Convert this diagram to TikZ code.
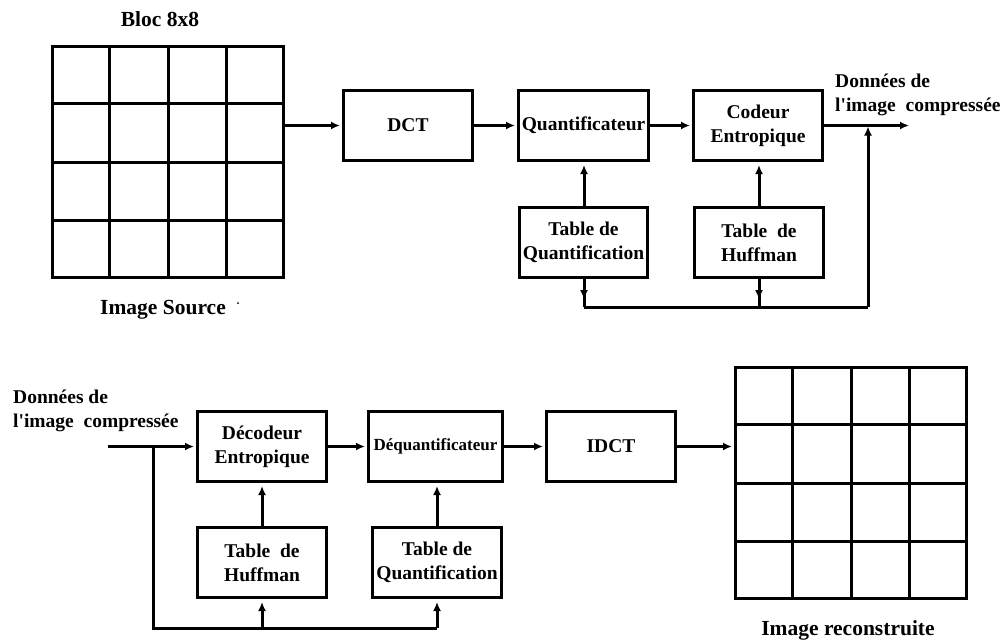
\documentclass[tikz,border=0pt]{standalone}
\usepackage{fontspec}
\setmainfont{Liberation Serif}
\usetikzlibrary{arrows.meta,decorations.markings}
\newcommand\bxf{\fontsize{19.5}{24}\selectfont\bfseries}
\newcommand\dqf{\fontsize{17}{21}\selectfont\bfseries}
\newcommand\lbf{\fontsize{21.5}{25}\selectfont\bfseries}
\newcommand\apos{\textquotesingle}
\begin{document}
\begin{tikzpicture}[x=1pt,y=-1pt,
 ln/.style={line width=3pt},
 tipstyle/.style={-{Latex[length=9pt,width=8pt]}},
 arr/.style={ln,tipstyle,shorten >=2pt},
 midarr/.style={ln,decoration={markings,mark=at position #1 with {\arrow{Latex[length=9pt,width=8pt]}}},postaction=decorate},
 box/.style={draw,line width=3pt,minimum width=129pt,minimum height=70pt,inner sep=0pt,align=center,font=\bxf},
 blk/.style={draw,line width=3pt,minimum width=231pt,minimum height=231pt,inner sep=0pt},
 gl/.style={line width=3pt},
 lbl/.style={inner sep=0pt,font=\lbf,anchor=base},
 txt/.style={inner sep=0pt,font=\bxf,anchor=base west}]
\useasboundingbox (0,0) rectangle (1003,642);
% ---------- top: compression ----------
\node[lbl] (bloc) at (160,27) {Bloc 8x8};
\node[blk] (src) at (168,162) {};
\foreach \i in {1,2,3}{
  \draw[gl] (51+58.5*\i,45) -- (51+58.5*\i,279);
  \draw[gl] (51,45+58.5*\i) -- (285,45+58.5*\i);
}
\node[lbl] (srclbl) at (163,314) {Image Source};
\fill (238,303) circle (1pt);

\node[box] (dct) at (408,125.5) {DCT};
\node[box,minimum width=130pt] (quant) at (583.5,125.5) {Quantificateur};
\node[box] (codeur) at (758,125.5) {Codeur\\Entropique};
\node[box,minimum width=128pt] (tq1) at (583.5,242.5) {Table de\\Quantification};
\node[box] (th1) at (759,242.5) {Table\ \ de\\Huffman};

\node[txt] (out1) at (835,87) {Données de};
\node[txt] (out2) at (835,111) {l\apos image\ \ compressée};

\coordinate (out) at (911,125.5);
\coordinate (j1) at (868,125.5);
\coordinate (b1) at (584,307);
\coordinate (b2) at (868,307);

\draw[arr] (src.east |- dct.west) -- (dct.west);
\draw[arr] (dct.east) -- (quant.west);
\draw[arr] (quant.east) -- (codeur.west);
\draw[arr] (codeur.east) -- (out);
\draw[arr,shorten >=3pt] (tq1.north -| 584,0) -- (quant.south -| 584,0);
\draw[arr,shorten >=3pt] (th1.north) -- (codeur.south -| th1.north);
\draw[midarr=0.72] (tq1.south -| b1) -- (b1);
\draw[midarr=0.72] (th1.south) -- (th1.south |- b1);
\draw[ln] (b1) -- (b2);
\draw[arr,shorten >=1pt] (b2) -- (j1);

% ---------- bottom: decompression ----------
\node[txt] (in1) at (13,403) {Données de};
\node[txt] (in2) at (13,427) {l\apos image\ \ compressée};

\node[box] (dec) at (262,446.5) {Décodeur\\Entropique};
\node[box,minimum width=134pt,font=\dqf] (deq) at (435.5,446.5) {Déquantificateur};
\node[box] (idct) at (611,446.5) {IDCT};
\node[box] (th2) at (262,562.5) {Table\ \ de\\Huffman};
\node[box] (tq2) at (437,562.5) {Table de\\Quantification};

\node[blk] (rec) at (851,483) {};
\foreach \i in {1,2,3}{
  \draw[gl] (734+58.5*\i,366) -- (734+58.5*\i,600);
  \draw[gl] (734,366+58.5*\i) -- (968,366+58.5*\i);
}
\node[lbl] (reclbl) at (848,635) {Image reconstruite};

\coordinate (in) at (108,446.5);
\coordinate (br) at (153,446.5);
\coordinate (bb1) at (153,628);
\coordinate (bb2) at (437,628);

\draw[arr] (in) -- (dec.west);
\draw[arr] (dec.east) -- (deq.west);
\draw[arr] (deq.east) -- (idct.west);
\draw[arr] (idct.east) -- (idct.east -| rec.west);
\draw[arr,shorten >=3pt] (th2.north) -- (dec.south);
\draw[arr,shorten >=3pt] (tq2.north) -- (tq2.north |- deq.south);
\draw[ln] (br) -- (bb1) -- (bb2);
\draw[arr,shorten >=3pt] (th2.south |- bb1) -- (th2.south);
\draw[arr,shorten >=3pt] (bb2) -- (tq2.south);
\end{tikzpicture}
\end{document}
